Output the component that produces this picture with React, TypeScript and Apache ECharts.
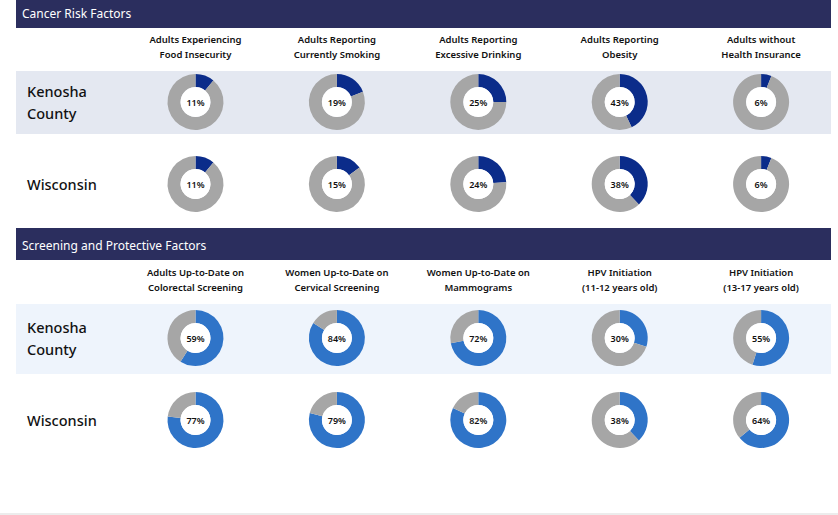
import React, { useEffect, useRef } from "react";
import * as echarts from "echarts";

const sectionTitles = ["Cancer Risk Factors", "Screening and Protective Factors"];
const rowLabels = ["Kenosha\nCounty", "Wisconsin"];
const riskCategories = [
  "Adults Experiencing\nFood Insecurity",
  "Adults Reporting\nCurrently Smoking",
  "Adults Reporting\nExcessive Drinking",
  "Adults Reporting\nObesity",
  "Adults without\nHealth Insurance",
];
const screeningCategories = [
  "Adults Up-to-Date on\nColorectal Screening",
  "Women Up-to-Date on\nCervical Screening",
  "Women Up-to-Date on\nMammograms",
  "HPV Initiation\n(11-12 years old)",
  "HPV Initiation\n(13-17 years old)",
];
const riskKenosha = [11, 19, 25, 43, 6];
const riskWisconsin = [11, 15, 24, 38, 6];
const screenKenosha = [59, 84, 72, 30, 55];
const screenWisconsin = [77, 79, 82, 38, 64];

const NAVY = "#2b2e5e";
const DARK_BLUE = "#0b2c8a";
const MID_BLUE = "#2f74c8";
const GREY = "#a6a6a6";
const FONT = "'Noto Sans', 'Open Sans', sans-serif";

export default function App() {
  const ref = useRef<HTMLDivElement>(null);
  useEffect(() => {
    if (!ref.current) return;
    const chart = echarts.init(ref.current, null, { renderer: "svg" });
    const colX = (i: number) => 195.5 + i * 141.4;

    const sections = [
      {
        title: sectionTitles[0], barY: -4, barH: 32, headY: 47,
        cats: riskCategories, band: { y: 71, h: 63, color: "#e4e8f1" },
        rows: [ { y: 102, vals: riskKenosha }, { y: 184, vals: riskWisconsin } ],
        color: DARK_BLUE,
      },
      {
        title: sectionTitles[1], barY: 228, barH: 32, headY: 280,
        cats: screeningCategories, band: { y: 304, h: 70, color: "#eef4fc" },
        rows: [ { y: 338, vals: screenKenosha }, { y: 420, vals: screenWisconsin } ],
        color: MID_BLUE,
      },
    ];

    const graphics: any[] = [];
    const series: any[] = [];
    sections.forEach((s) => {
      graphics.push({ type: "rect", z: 0, shape: { x: 16, y: s.barY, width: 815, height: s.barH }, style: { fill: NAVY } });
      graphics.push({ type: "text", z: 1, x: 22, y: s.barY + s.barH / 2 + 1, style: { text: s.title, fill: "#fff", font: `12px ${FONT}`, verticalAlign: "middle" } });
      graphics.push({ type: "rect", z: 0, shape: { x: 16, y: s.band.y, width: 815, height: s.band.h }, style: { fill: s.band.color } });
      s.cats.forEach((c, i) => {
        graphics.push({ type: "text", z: 1, x: colX(i), y: s.headY, style: { text: c, fill: "#111", font: `600 9.5px ${FONT}`, align: "center", verticalAlign: "middle", lineHeight: 15 } });
      });
      s.rows.forEach((r, ri) => {
        graphics.push({ type: "text", z: 1, x: 27, y: r.y, style: { text: rowLabels[ri], fill: "#111", font: `500 14.5px ${FONT}`, verticalAlign: "middle", lineHeight: 22 } });
        r.vals.forEach((v, i) => {
          series.push({
            type: "pie", center: [colX(i), r.y], radius: [15, 28], startAngle: 90, clockwise: true,
            silent: true, label: { show: false }, labelLine: { show: false },
            data: [
              { value: v, itemStyle: { color: s.color } },
              { value: 100 - v, itemStyle: { color: GREY } },
            ],
          });
          series.push({
            type: "pie", center: [colX(i), r.y], radius: [0, 15], silent: true,
            label: { show: true, position: "center", formatter: `${v}%`, fontFamily: FONT, fontSize: 9, fontWeight: 600, color: "#111" },
            labelLine: { show: false },
            data: [{ value: 1, itemStyle: { color: "#fff" } }],
          });
        });
      });
    });
    graphics.push({ type: "rect", z: 0, shape: { x: 0, y: 513, width: 838, height: 2 }, style: { fill: "#ececec" } });

    chart.setOption({
      animation: false,
      backgroundColor: "#fff",
      graphic: graphics,
      series,
    });
    return () => chart.dispose();
  }, []);
  return <div ref={ref} style={{ position: "absolute", left: 0, top: 0, width: 838, height: 515 }} />;
}
